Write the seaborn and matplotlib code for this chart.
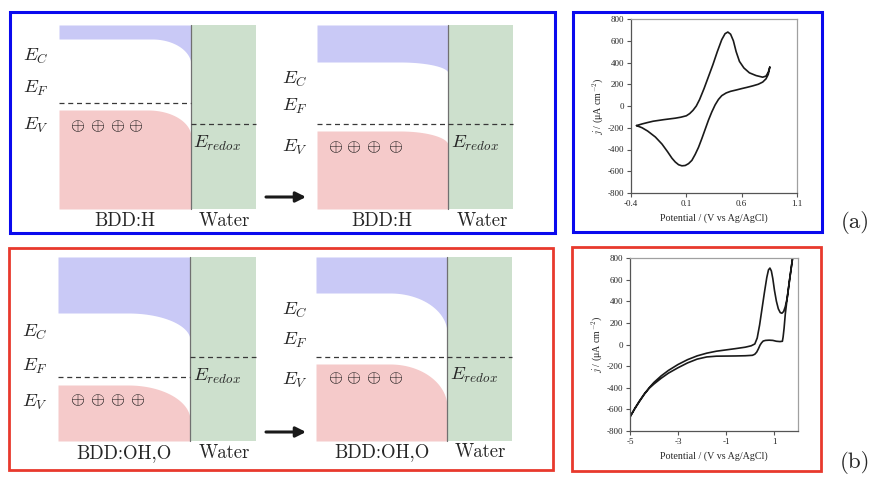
import numpy as np
import pandas as pd
import matplotlib
matplotlib.use("Agg")
import matplotlib.pyplot as plt
import seaborn as sns
from matplotlib.patches import Rectangle

sns.set_theme(style="white")
plt.rcParams["font.family"] = ["DejaVu Sans"]
plt.rcParams["mathtext.fontset"] = "cm"
plt.rcParams["axes.unicode_minus"] = False

# ---------------- CV data (a): H-terminated BDD ----------------
cv_a_upper_x = [-0.35, -0.3, -0.25, -0.2, -0.1, 0.0, 0.05, 0.1, 0.13, 0.16, 0.19, 0.22, 0.26,
                0.3, 0.34, 0.38, 0.42, 0.45, 0.475, 0.5, 0.525, 0.55, 0.58, 0.62, 0.67, 0.73,
                0.79, 0.82, 0.84, 0.855]
cv_a_upper_y = [-180, -165, -152, -140, -125, -112, -103, -90, -70, -40, 0, 60, 160,
                270, 380, 500, 610, 665, 680, 660, 600, 500, 410, 350, 305, 280,
                265, 275, 310, 360]
cv_a_lower_x = [0.855, 0.84, 0.82, 0.79, 0.75, 0.7, 0.65, 0.6, 0.55, 0.5, 0.46, 0.42, 0.39,
                0.36, 0.33, 0.3, 0.27, 0.24, 0.21, 0.18, 0.15, 0.12, 0.09, 0.06, 0.03, 0.0,
                -0.03, -0.07, -0.12, -0.18, -0.25, -0.3, -0.35]
cv_a_lower_y = [360, 290, 250, 220, 200, 185, 172, 160, 147, 135, 120, 95, 60,
                10, -55, -130, -215, -300, -380, -445, -500, -530, -547, -550, -540, -515,
                -480, -420, -350, -285, -230, -200, -180]
cv_a_xticks = [-0.4, 0.1, 0.6, 1.1]
cv_a_xticklabels = ["-0.4", "0.1", "0.6", "1.1"]

# ---------------- CV data (b): O-terminated BDD ----------------
cv_b_upper_x = [-5, -4.8, -4.6, -4.4, -4.2, -4.0, -3.7, -3.4, -3.0, -2.6, -2.2, -1.8, -1.4,
                -1.0, -0.6, -0.2, 0.05, 0.2, 0.3, 0.4, 0.5, 0.6, 0.7, 0.77, 0.83, 0.89, 0.95,
                1.02, 1.1, 1.18, 1.26, 1.33, 1.4, 1.47, 1.55, 1.65, 1.75, 1.85]
cv_b_upper_y = [-670, -590, -520, -455, -400, -350, -290, -240, -185, -140, -105, -80, -62,
                -50, -38, -25, -12, 5, 60, 180, 330, 480, 620, 690, 707, 680, 610,
                500, 400, 330, 295, 289, 305, 350, 430, 600, 760, 920]
cv_b_lower_x = [1.85, 1.75, 1.65, 1.55, 1.47, 1.42, 1.38, 1.35, 1.25, 1.1, 0.95, 0.8, 0.65,
                0.55, 0.48, 0.42, 0.35, 0.28, 0.2, 0.1, -0.2, -0.6, -1.0, -1.4, -1.8, -2.2,
                -2.6, -3.0, -3.4, -3.7, -4.0, -4.2, -4.4, -4.6, -4.8, -5]
cv_b_lower_y = [920, 760, 600, 430, 280, 150, 70, 30, 27, 30, 38, 40, 38,
                32, 15, -5, -40, -70, -90, -100, -104, -106, -107, -108, -115, -135,
                -170, -215, -265, -312, -365, -405, -460, -525, -595, -670]
cv_b_xticks = [-5, -3, -1, 1]
cv_b_xticklabels = ["-5", "-3", "-1", "1"]

cv_yticks = [-800, -600, -400, -200, 0, 200, 400, 600, 800]
cv_yticklabels = ["-800", "-600", "-400", "-200", "0", "200", "400", "600", "800"]

# ---------------- band-diagram labels ----------------
semi_labels = ["BDD:H", "BDD:H", "BDD:OH,O", "BDD:OH,O"]
water_label = "Water"
level_labels = [r"$E_C$", r"$E_F$", r"$E_V$"]
redox_label = r"$E_{redox}$"
panel_tags = ["(a)", "(b)"]

C_BLUE = "#c9c9f6"
C_PINK = "#f5caca"
C_GREEN = "#cde0cd"
C_BOXB = "#0a0aee"
C_BOXR = "#e8392d"

fig = plt.figure(figsize=(8.73, 4.78), dpi=100)
fig.patch.set_facecolor("white")
ax = fig.add_axes([0, 0, 1, 1])
ax.set_xlim(0, 873)
ax.set_ylim(478, 0)
ax.axis("off")


def bend(x, xs, xi, yl, yi):
    t = np.clip((x - xs) / (xi - xs), 0, 1)
    return yl + (yi - yl) * (1 - np.sqrt(1 - t ** 2))


def panel(x0, xi, x1, ytop, ybot, cb, vb, xs_c, xs_v, ef, er,
          lab_x, lab_y, plus_x, plus_y, red_xy, semi, sx, wx, ly):
    xg = np.linspace(x0, xi, 400)
    ax.fill_between(xg, ytop, bend(xg, xs_c, xi, cb[0], cb[1]), color=C_BLUE, lw=0)
    ax.fill_between(xg, bend(xg, xs_v, xi, vb[0], vb[1]), ybot, color=C_PINK, lw=0)
    ax.add_patch(Rectangle((xi, ytop), x1 - xi, ybot - ytop, color=C_GREEN, lw=0))
    ax.plot([xi, xi], [ytop, ybot], color="#707070", lw=0.9)
    ax.plot([x0, xi], [ef, ef], color="#383838", lw=0.9, ls=(0, (4, 3)))
    ax.plot([xi, x1], [er, er], color="#383838", lw=0.9, ls=(0, (4, 3)))
    for lab, yy in zip(level_labels, lab_y):
        ax.text(lab_x, yy, lab, fontsize=13.5, ha="left", va="center")
    for px in plus_x:
        ax.text(px, plus_y, r"$\oplus$", fontsize=13, color="#111111",
                ha="center", va="center")
    ax.text(red_xy[0], red_xy[1], redox_label, fontsize=13.5, ha="left", va="center")
    ax.text(sx, ly, semi, fontsize=13.5, family="cmr10", ha="center", va="center")
    ax.text(wx, ly, water_label, fontsize=13.5, family="cmr10", ha="center", va="center")


# top-left
panel(59, 191, 256, 25, 209, (39, 65), (110, 137), 152, 148, 103, 124,
      23, (56, 88, 125), (78, 98, 117, 136), 125, (193, 143), semi_labels[0], 125, 224, 221)
# top-middle
panel(317, 448, 513, 25, 209, (62, 73), (131, 145), 400, 400, 124, 124,
      282, (79, 106, 147), (335, 354, 374, 395), 146, (451, 143), semi_labels[1], 382, 482, 221)
# bottom-left
panel(58, 190, 256, 257, 441, (313, 340), (385, 420), 128, 128, 377, 357,
      22, (332, 366, 402), (78, 97, 117, 137), 399, (193, 376), semi_labels[2], 124, 224, 453)
# bottom-middle
panel(316, 447, 512, 257, 441, (293, 333), (364, 407), 390, 390, 357, 357,
      282, (310, 340, 380), (335, 354, 374, 395), 377, (450, 375), semi_labels[3], 382, 480, 452)

# arrows
for ya in (197, 432):
    ax.annotate("", xy=(306, ya), xytext=(266, ya),
                arrowprops=dict(arrowstyle="-|>", color="k", lw=2.2, mutation_scale=15,
                                shrinkA=0, shrinkB=0))

# boxes
ax.add_patch(Rectangle((10, 12), 545, 221, fill=False, ec=C_BOXB, lw=2.2))
ax.add_patch(Rectangle((573, 12), 249, 220, fill=False, ec=C_BOXB, lw=2.2))
ax.add_patch(Rectangle((9, 248), 544, 222, fill=False, ec=C_BOXR, lw=2.0))
ax.add_patch(Rectangle((572, 247), 249, 224, fill=False, ec=C_BOXR, lw=2.0))

ax.text(855, 222, panel_tags[0], fontsize=16.5, family="cmr10", ha="center", va="center")
ax.text(855, 462, panel_tags[1], fontsize=16.5, family="cmr10", ha="center", va="center")


def cv_axes(rect, ux, uy, lx, ly, xlim, xt, xtl):
    cax = fig.add_axes(rect)
    df = pd.DataFrame({"x": ux + lx, "y": uy + ly})
    sns.lineplot(data=df, x="x", y="y", sort=False, estimator=None, ax=cax,
                 color="k", lw=1.2)
    cax.set_xlim(*xlim)
    cax.set_ylim(-800, 800)
    cax.set_xticks(xt)
    cax.set_xticklabels(xtl, family="Liberation Serif", fontsize=6.5)
    cax.set_yticks(cv_yticks)
    cax.set_yticklabels(cv_yticklabels, family="Liberation Serif", fontsize=6.5)
    cax.set_xlabel("Potential / (V vs Ag/AgCl)", family="Liberation Serif", fontsize=7.2,
                   labelpad=4)
    cax.set_ylabel(r"$j$ / (μA cm$^{-2}$)", family="Liberation Serif", fontsize=7.2,
                   labelpad=2)
    for s in ("left", "bottom"):
        cax.spines[s].set_color("#555555")
        cax.spines[s].set_linewidth(0.9)
    for s in ("top", "right"):
        cax.spines[s].set_color("#a0a0a0")
        cax.spines[s].set_linewidth(0.9)
    cax.tick_params(axis="both", direction="out", length=3, width=0.8, color="#555555",
                    pad=2, left=True, bottom=True)
    cax.set_facecolor("white")
    return cax


cv_axes([631 / 873, (478 - 193) / 478, 166 / 873, 174 / 478],
        cv_a_upper_x, cv_a_upper_y, cv_a_lower_x, cv_a_lower_y, (-0.4, 1.1),
        cv_a_xticks, cv_a_xticklabels)
cv_axes([630 / 873, (478 - 431) / 478, 168 / 873, 173 / 478],
        cv_b_upper_x, cv_b_upper_y, cv_b_lower_x, cv_b_lower_y, (-5, 2),
        cv_b_xticks, cv_b_xticklabels)

fig.savefig("out.png", dpi=100, facecolor="white")
